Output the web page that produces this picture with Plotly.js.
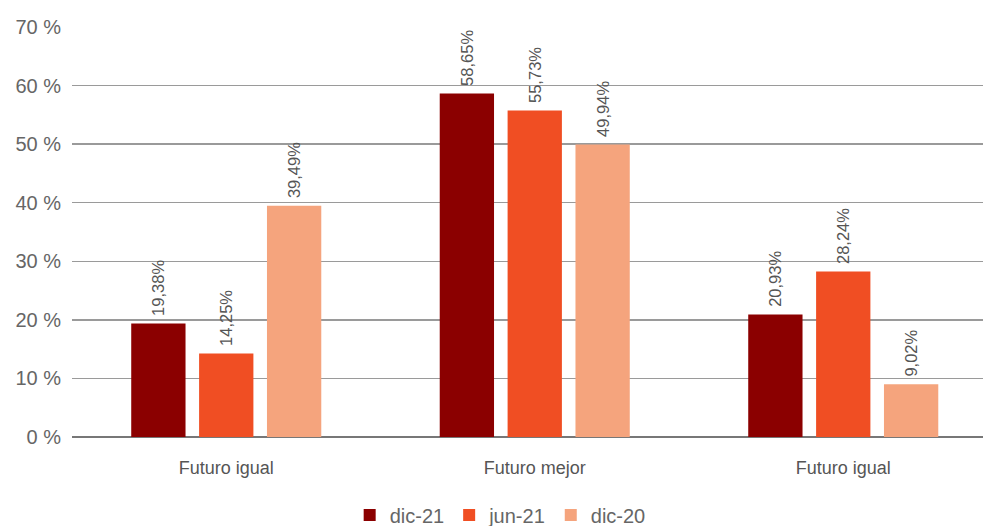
<!DOCTYPE html>
<html>
<head>
<meta charset="utf-8">
<script src="https://cdn.plot.ly/plotly-3.0.1.min.js"></script>
<style>html,body{margin:0;padding:0;background:#fff;}#chart{width:983px;height:526px;}</style>
</head>
<body>
<div id="chart"></div>
<script>
const categories = ["Futuro igual", "Futuro mejor", "Futuro igual"];
const seriesNames = ["dic-21", "jun-21", "dic-20"];
const dic21 = [19.38, 58.65, 20.93];
const jun21 = [14.25, 55.73, 28.24];
const dic20 = [39.49, 49.94, 9.02];
const yTickVals = [0, 10, 20, 30, 40, 50, 60, 70];
const yTickText = ["0 %", "10 %", "20 %", "30 %", "40 %", "50 %", "60 %", "70 %"];
const colors = ["#8B0000", "#F04E23", "#F5A47D"];

const xIdx = categories.map((c, i) => i);
const fmt = v => '\u00A0' + v.toFixed(2).replace('.', ',') + '%';
const font = "Liberation Sans, Arial, sans-serif";

const traces = [dic21, jun21, dic20].map((vals, k) => ({
  type: 'bar',
  name: seriesNames[k],
  x: xIdx,
  y: vals,
  marker: {color: colors[k]},
  text: vals.map(fmt),
  textposition: 'outside',
  textangle: -90,
  constraintext: 'none',
  cliponaxis: false,
  textfont: {family: font, size: 16.5, color: '#555'},
  hoverinfo: 'none'
}));

const layout = {
  width: 983, height: 526,
  margin: {l: 72, r: 0, t: 27, b: 89, autoexpand: false},
  paper_bgcolor: '#fff', plot_bgcolor: '#fff',
  barmode: 'group', bargap: 0.34, bargroupgap: 0.2,
  font: {family: font, color: '#666'},
  xaxis: {
    range: [-0.5, 2.453],
    tickvals: xIdx, ticktext: categories,
    tickfont: {size: 18, color: '#555'},
    showgrid: false, zeroline: false, showline: false, ticks: '',
    ticklabelstandoff: 18, automargin: false,
    fixedrange: true
  },
  yaxis: {
    range: [0, 70],
    tickvals: yTickVals, ticktext: yTickText,
    tickfont: {size: 20, color: '#666'},
    showgrid: true, gridcolor: '#9a9a9a', gridwidth: 1.5,
    zeroline: true, zerolinecolor: '#777', zerolinewidth: 2.5,
    ticks: '', ticklabelstandoff: 10, automargin: false,
    showline: false, fixedrange: true
  },
  showlegend: true,
  legend: {
    orientation: 'h', x: 0.47, xanchor: 'center', y: -0.19, yanchor: 'middle',
    font: {size: 20, color: '#666'}, itemwidth: 30, traceorder: 'normal'
  }
};

Plotly.newPlot('chart', traces, layout, {displayModeBar: false, staticPlot: true});
</script>
</body>
</html>
